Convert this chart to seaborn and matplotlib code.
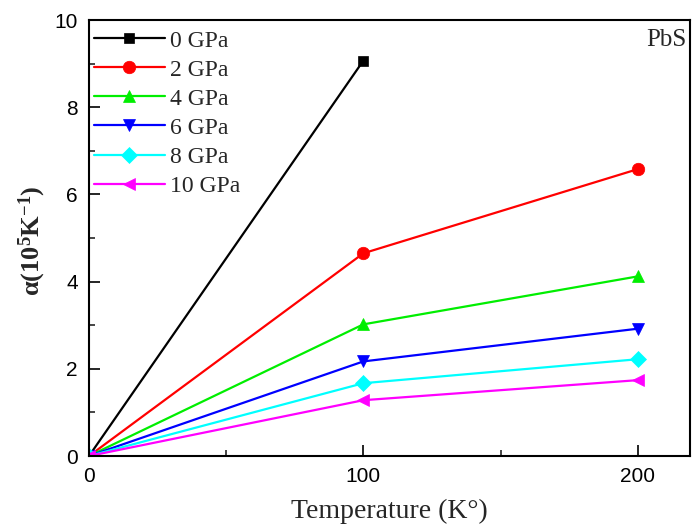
import matplotlib
matplotlib.use("Agg")
import matplotlib.pyplot as plt
from matplotlib.ticker import MultipleLocator
import seaborn as sns
import pandas as pd

temps = [0, 100, 200]
labels = ["0 GPa", "2 GPa", "4 GPa", "6 GPa", "8 GPa", "10 GPa"]
v0 = [0, 9.07]
v2 = [0, 4.65, 6.58]
v4 = [0, 3.02, 4.12]
v6 = [0, 2.17, 2.92]
v8 = [0, 1.67, 2.22]
v10 = [0, 1.28, 1.74]
series = [v0, v2, v4, v6, v8, v10]
colors = ["#000000", "#ff0000", "#00ee00", "#0000ff", "#00ffff", "#ff00ff"]
markers = ["s", "o", "^", "v", "D", "<"]
msizes = [7, 9, 9, 9, 8, 9]

sns.set_theme(style="white")
plt.rcParams['font.family'] = ['Liberation Serif', 'DejaVu Serif']
plt.rcParams['mathtext.fontset'] = 'custom'
plt.rcParams['mathtext.rm'] = 'Liberation Serif'
plt.rcParams['mathtext.it'] = 'Liberation Serif:italic'
plt.rcParams['mathtext.bf'] = 'Liberation Serif:bold'

fig = plt.figure(figsize=(6.92, 5.27), dpi=100)
ax = fig.add_axes([0.1286, 0.1347, 0.997 - 0.1286, 0.962 - 0.1347])

for lab, vals, c, m, ms in zip(labels, series, colors, markers, msizes):
    df = pd.DataFrame({"T": temps[:len(vals)], "a": vals})
    sns.lineplot(data=df, x="T", y="a", ax=ax, color=c, marker=m, markersize=ms,
                 markeredgecolor=c, markeredgewidth=0.5, linewidth=1.6, label=lab)

ax.set_xlim(0, 219)
ax.set_ylim(0, 10)
ax.xaxis.set_major_locator(MultipleLocator(100))
ax.xaxis.set_minor_locator(MultipleLocator(50))
ax.yaxis.set_major_locator(MultipleLocator(2))
ax.yaxis.set_minor_locator(MultipleLocator(1))
ax.tick_params(axis="both", which="major", direction="in", length=8, width=1.2,
               labelsize=15, colors="black", bottom=True, left=True, top=False, right=False, pad=8)
ax.tick_params(axis="both", which="minor", direction="in", length=4, width=1.2,
               bottom=True, left=True, top=False, right=False)
for lbl in ax.get_xticklabels() + ax.get_yticklabels():
    lbl.set_fontfamily("Liberation Sans")
for s in ax.spines.values():
    s.set_color("black")
    s.set_linewidth(1.5)

ax.set_xlabel("Temperature (K°)", fontsize=20, va="center")
ax.xaxis.set_label_coords(0.5, -0.128)
ax.set_ylabel(r"$\mathbf{\alpha(10^{5}K^{-1})}$", fontsize=19, va="center")
ax.yaxis.set_label_coords(-0.095, 0.493)

leg = ax.legend(loc="upper left", frameon=False, fontsize=17, handlelength=3.0,
                handletextpad=0.25, labelspacing=0.32, borderpad=0.1, borderaxespad=0.1,
                bbox_to_anchor=(0.0, 0.988))

ax.text(0.995, 0.98, "PbS", transform=ax.transAxes, ha="right", va="top", fontsize=18)

fig.savefig("out.png", dpi=100)
